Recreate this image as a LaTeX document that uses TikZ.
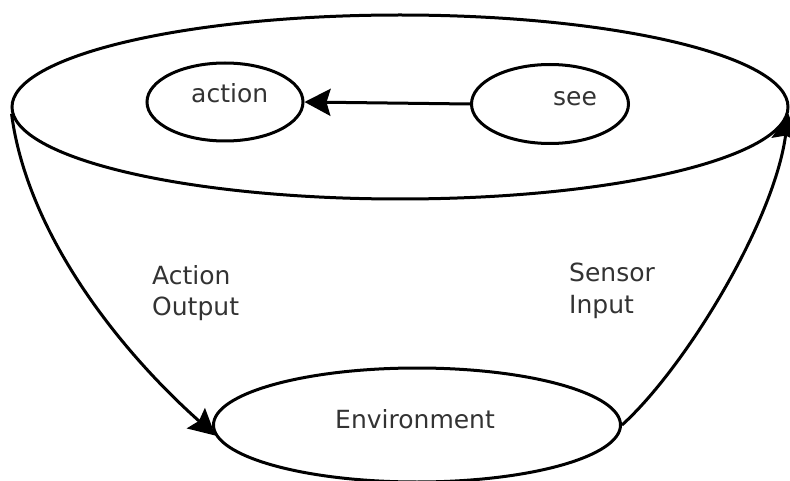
\documentclass[tikz,border=0pt]{standalone}
\usepackage{fontspec}
\setmainfont{DejaVu Sans}
\usetikzlibrary{shapes.geometric,arrows.meta}
\begin{document}
\begin{tikzpicture}[x=1pt,y=-1pt,
  oval/.style={ellipse,draw=black,line width=3pt,inner sep=0pt},
  lbl/.style={inner sep=0pt,text=black!80,font=\fontsize{25}{31.5}\selectfont},
  arr/.style={line width=3pt,-{Stealth[length=26pt,width=27pt,inset=4pt]}}]
\fill[white] (0,0) rectangle (790,481);
\useasboundingbox (0,0) rectangle (790,481);
% nodes
\node[oval,minimum width=776pt,minimum height=184pt] (agent) at (400,107) {};
\node[oval,minimum width=156pt,minimum height=78pt] (act) at (225,102) {};
\node[oval,minimum width=157pt,minimum height=79pt] (see) at (550,104) {};
\node[oval,minimum width=407pt,minimum height=114pt] (env) at (417,425) {};
% texts
\node[lbl,anchor=base west] (acttxt) at (191,103) {action};
\node[lbl,anchor=base west] (seetxt) at (553,106) {see};
\node[lbl,anchor=base west] (envtxt) at (335,428) {Environment};
\node[lbl,anchor=north west,align=left] (outlbl) at (152,265) {Action\\Output};
\node[lbl,anchor=north west,align=left] (inlbl) at (569,263) {Sensor\\Input};
% connectors
\draw[arr] (see.west) -- (act.east);
\draw[arr] (agent.181) .. controls (27,232) and (117,348) .. (env.183);
\draw[arr] (env.east) .. controls (685,368) and (774,222) .. (agent.-1.2);
\end{tikzpicture}
\end{document}
